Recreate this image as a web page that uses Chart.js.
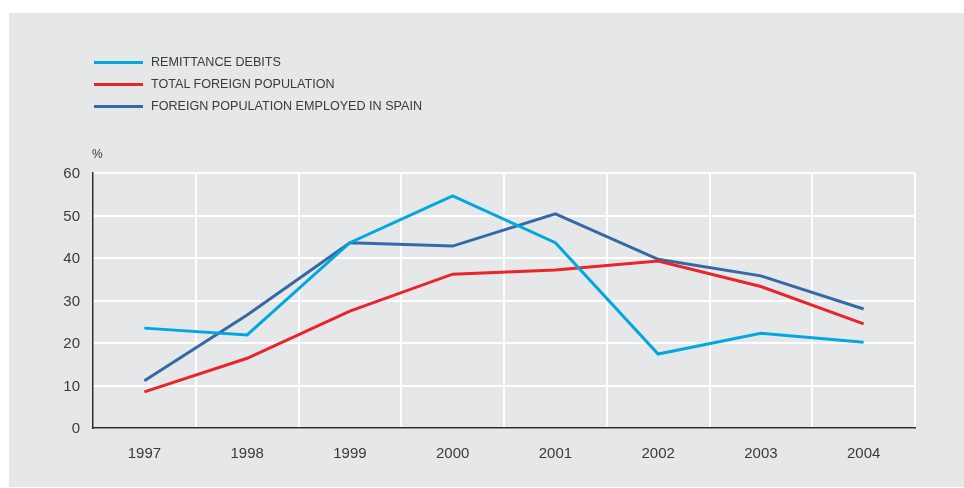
<!DOCTYPE html>
<html>
<head>
<meta charset="utf-8">
<script src="https://cdn.jsdelivr.net/npm/chart.js@4/dist/chart.umd.min.js"></script>
<style>
  body { margin: 0; background: #fff; }
  #wrap { position: relative; width: 964px; height: 488px; }
  #panel { position: absolute; left: 9px; top: 13px; width: 955px; height: 474px; background: #e6e7e8; }
  #chart { position: absolute; left: 0; top: 0; }
  #legend { position: absolute; left: 94px; top: 51px; font-family: "Liberation Sans", Arial, sans-serif; font-size: 12.6px; color: #3a3a3a; }
  .item { height: 22px; display: flex; align-items: center; }
  .swatch { width: 49px; height: 3px; margin-right: 8px; }
  #unit { position: absolute; left: 92px; top: 147px; font-family: "Liberation Sans", Arial, sans-serif; font-size: 12px; color: #3a3a3a; }
</style>
</head>
<body>
<div id="wrap">
  <div id="panel"></div>
  <canvas id="chart" width="964" height="488"></canvas>
  <div id="legend"></div>
  <div id="unit">%</div>
</div>
<script>
const years = ['1997', '1998', '1999', '2000', '2001', '2002', '2003', '2004'];
const remittanceDebits = [23.5, 21.9, 43.6, 54.6, 43.6, 17.4, 22.3, 20.2];
const totalForeignPopulation = [8.5, 16.4, 27.5, 36.2, 37.2, 39.3, 33.3, 24.5];
const foreignEmployed = [11.1, 26.6, 43.6, 42.8, 50.4, 39.7, 35.8, 28.0];
const yTicks = [0, 10, 20, 30, 40, 50, 60];

const seriesNames = ['REMITTANCE DEBITS', 'TOTAL FOREIGN POPULATION', 'FOREIGN POPULATION EMPLOYED IN SPAIN'];
const seriesColors = ['#00a8df', '#e8242d', '#3569a5'];
const seriesData = [remittanceDebits, totalForeignPopulation, foreignEmployed];

const tickFont = { family: '"Liberation Sans", Arial, sans-serif', size: 15 };

const chart = new Chart(document.getElementById('chart'), {
    type: 'line',
    data: {
        labels: years,
        datasets: seriesData.map((d, i) => ({
            label: seriesNames[i],
            data: d,
            borderColor: seriesColors[i],
            backgroundColor: seriesColors[i],
            borderWidth: 3,
            pointRadius: 0,
            tension: 0,
            fill: false
        }))
    },
    options: {
        responsive: false,
        animation: false,
        layout: { padding: { left: 0, top: 173, right: 49, bottom: 0 } },
        plugins: {
            legend: { display: false },
            tooltip: { enabled: false }
        },
        scales: {
            x: {
                offset: true,
                grid: { offset: true, color: '#ffffff', lineWidth: 2, drawTicks: false },
                border: { display: true, color: '#2b2b2b', width: 1.5 },
                ticks: { color: '#3a3a3a', font: tickFont, padding: 17, maxRotation: 0 },
                afterFit: function(scale) { scale.height = 60; }
            },
            y: {
                min: 0,
                max: 60,
                afterBuildTicks: function(scale) { scale.ticks = yTicks.map(v => ({ value: v })); },
                grid: { color: '#ffffff', lineWidth: 2, drawTicks: false },
                border: { display: true, color: '#2b2b2b', width: 1.5 },
                ticks: { color: '#3a3a3a', font: tickFont, padding: 13, labelOffset: 1 },
                afterFit: function(scale) { scale.width = 93; }
            }
        }
    }
});

// legend built from the datasets
const legend = document.getElementById('legend');
chart.data.datasets.forEach(ds => {
    const item = document.createElement('div');
    item.className = 'item';
    const sw = document.createElement('span');
    sw.className = 'swatch';
    sw.style.background = ds.borderColor;
    const txt = document.createElement('span');
    txt.textContent = ds.label;
    item.appendChild(sw);
    item.appendChild(txt);
    legend.appendChild(item);
});
</script>
</body>
</html>
